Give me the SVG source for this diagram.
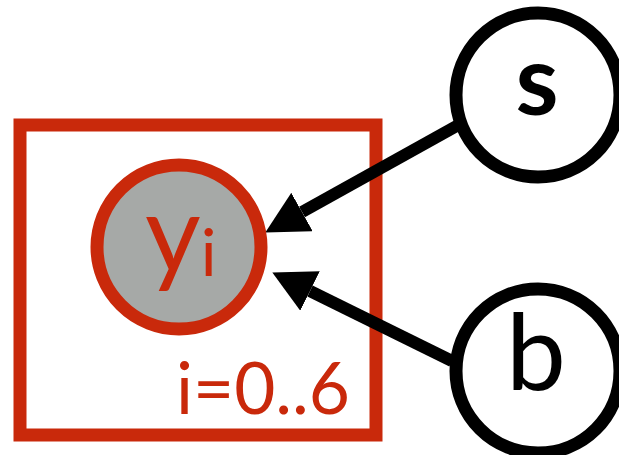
<svg xmlns="http://www.w3.org/2000/svg" width="619" height="455" viewBox="0 0 619 455">
<style>
.red{fill:none;stroke:#c9290b;stroke-width:13}
.node{stroke:#000;stroke-width:13;fill:#fff}
.edge{stroke:#000;stroke-width:12;fill:none}
.lbl{font-family:Lato,"Liberation Sans",sans-serif;fill:#000}
.rt{font-family:Lato,"Liberation Sans",sans-serif;fill:#c9290b}
</style>
<defs>
<marker id="ah" viewBox="0 0 42 44" refX="0" refY="22" markerWidth="42" markerHeight="44" markerUnits="userSpaceOnUse" orient="auto">
<path d="M0,0 L42,22 L0,44 z" fill="#000"/>
</marker>
</defs>
<rect width="619" height="455" fill="#fff"/>
<g id="plate">
<rect class="red" x="20" y="125" width="356" height="310"/>
<text class="rt" x="350" y="414" font-size="71" text-anchor="end">i=0..6</text>
</g>
<g id="connectors">
<line class="edge" x1="462" y1="123" x2="302" y2="212" marker-end="url(#ah)"/>
<line class="edge" x1="452" y1="361" x2="310" y2="291" marker-end="url(#ah)"/>
</g>
<g id="node-yi">
<circle cx="179" cy="247" r="82" fill="#a6a9a7" stroke="#c9290b" stroke-width="13"/>
<text class="rt" x="145" y="272" font-size="108">y<tspan font-size="66" dy="4">i</tspan></text>
</g>
<g id="node-s">
<circle class="node" cx="538" cy="95" r="82"/>
<text class="lbl" x="537" y="115" font-size="98" font-weight="bold" text-anchor="middle">s</text>
</g>
<g id="node-b">
<circle class="node" cx="538" cy="371" r="82"/>
<text class="lbl" x="536" y="390" font-size="107" text-anchor="middle">b</text>
</g>
</svg>
